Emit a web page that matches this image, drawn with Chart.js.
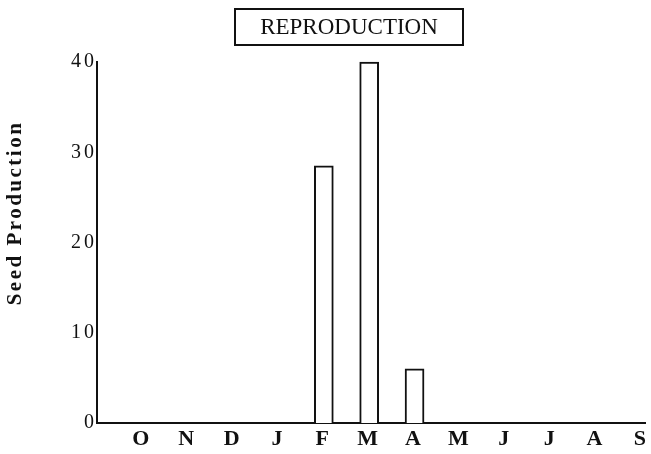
<!DOCTYPE html>
<html>
<head>
<meta charset="utf-8">
<script src="https://cdn.jsdelivr.net/npm/chart.js@4/dist/chart.umd.min.js"></script>
<style>
  html, body { margin: 0; padding: 0; background: #fff; }
  #wrap { width: 651px; height: 454px; }
</style>
</head>
<body>
<div id="wrap"><canvas id="c" width="651" height="454"></canvas></div>
<script>
// ---- data ----
const months = ['O', 'N', 'D', 'J', 'F', 'M', 'A', 'M', 'J', 'J', 'A', 'S'];
const seedProduction = [0, 0, 0, 0, 28.5, 40, 6, 0, 0, 0, 0, 0];
const yTickValues = [0, 10, 20, 30, 40];
const chartTitle = 'REPRODUCTION';
const yAxisTitle = 'Seed Production';

const SERIF = '"Liberation Serif", "Times New Roman", serif';

const points = months.map((m, i) => ({ x: i, y: seedProduction[i] }));

const decorPlugin = {
  id: 'decor',
  beforeDraw(chart) {
    const ctx = chart.ctx;
    ctx.save();
    ctx.fillStyle = '#fff';
    ctx.fillRect(0, 0, chart.width, chart.height);
    ctx.restore();
    ctx.letterSpacing = '3px';
  },
  afterDraw(chart) {
    const ctx = chart.ctx;
    ctx.save();
    ctx.letterSpacing = '0px';
    // boxed title
    ctx.strokeStyle = '#111';
    ctx.lineWidth = 2;
    ctx.strokeRect(235, 9, 228, 36);
    ctx.fillStyle = '#111';
    ctx.font = '23px ' + SERIF;
    ctx.textAlign = 'center';
    ctx.textBaseline = 'middle';
    ctx.fillText(chartTitle, 349, 28);
    // y axis title
    ctx.letterSpacing = '2.5px';
    ctx.font = 'bold 21px ' + SERIF;
    ctx.translate(16, 213);
    ctx.rotate(-Math.PI / 2);
    ctx.fillText(yAxisTitle, 0, 0);
    ctx.restore();
    ctx.letterSpacing = '0px';
  }
};

new Chart(document.getElementById('c'), {
  type: 'bar',
  data: {
    datasets: [{
      data: points,
      backgroundColor: '#fff',
      borderColor: '#111',
      borderWidth: 2,
      borderSkipped: 'start',
      barThickness: 19,
      clip: false
    }]
  },
  plugins: [decorPlugin],
  options: {
    responsive: false,
    devicePixelRatio: 1,
    animation: false,
    layout: { padding: { left: 0, top: 62, right: 6, bottom: 0 } },
    plugins: { legend: { display: false }, tooltip: { enabled: false }, title: { display: false } },
    scales: {
      x: {
        type: 'linear',
        offset: false,
        min: -1.0,
        max: 11.08,
        afterBuildTicks(scale) { scale.ticks = months.map((m, i) => ({ value: i })); },
        afterFit(scale) { scale.height = 31; },
        grid: { display: false, drawTicks: false },
        border: { display: true, color: '#111', width: 2 },
        ticks: {
          autoSkip: false,
          maxRotation: 0,
          padding: 3,
          color: '#111',
          font: { family: SERIF, size: 22, weight: 'bold' },
          callback: (v) => months[v]
        }
      },
      y: {
        min: 0,
        max: 40,
        afterBuildTicks(scale) { scale.ticks = yTickValues.map(v => ({ value: v })); },
        afterFit(scale) { scale.width = 97; },
        grid: { display: false, drawTicks: false },
        border: { display: true, color: '#111', width: 2 },
        ticks: {
          padding: 0,
          color: '#111',
          font: { family: SERIF, size: 20 }
        }
      }
    }
  }
});
</script>
</body>
</html>
